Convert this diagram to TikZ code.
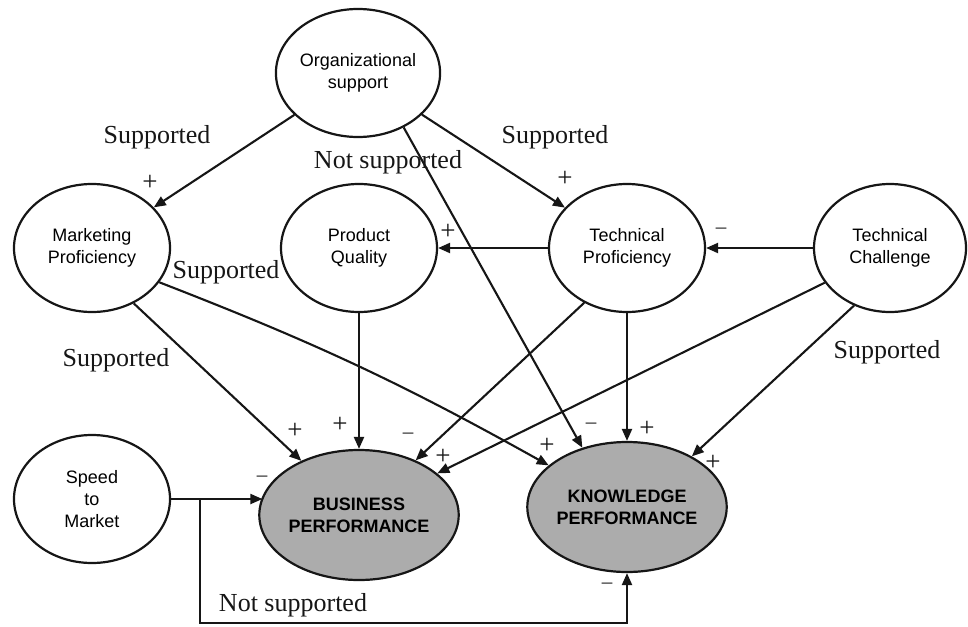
\documentclass[tikz,border=0pt]{standalone}
\usepackage{fontspec}
\setmainfont{Liberation Serif}
\setsansfont{Liberation Sans}
\usetikzlibrary{arrows.meta,shapes.geometric}
\definecolor{perfgray}{RGB}{172,172,172}
\definecolor{ink}{RGB}{22,22,22}
\tikzset{
  var/.style={ellipse, draw=ink, line width=2.2pt, inner sep=0pt, align=center,
    font=\sffamily\fontsize{18}{22}\selectfont,
    minimum width=156pt, minimum height=128pt},
  outcome/.style={var, fill=perfgray,
    font=\sffamily\bfseries\fontsize{18}{22}\selectfont,
    minimum width=176pt, minimum height=130pt},
  link/.style={draw=ink, line width=2.1pt, -{Triangle[length=12pt,width=10pt]}},
  verdict/.style={font=\fontsize{26}{28}\selectfont, inner sep=0pt, text=ink},
  sign/.style={font=\fontsize{27}{27}\selectfont, inner sep=0pt, text=ink},
  neg/.style={font=\fontsize{21}{21}\selectfont, inner sep=0pt, text=ink},
}
\begin{document}
\begin{tikzpicture}[x=1pt, y=-1pt]
\useasboundingbox (0,0) rectangle (968,626);

% constructs
\node[var] (org) at (358,73) {Organizational\\support};
\node[var] (mkt) at (92,248) {Marketing\\Proficiency};
\node[var] (pq) at (359,248) {Product\\Quality};
\node[var] (tp) at (627,248) {Technical\\Proficiency};
\node[var, minimum width=152pt] (tc) at (890,248) {Technical\\Challenge};
\node[var] (spd) at (92,499) {Speed\\to\\Market};
\node[outcome] (bus) at (359,515) {BUSINESS\\PERFORMANCE};
\node[outcome] (know) at (627,507) {KNOWLEDGE\\PERFORMANCE};

% hypothesised paths
\draw[link] (org) -- (mkt);
\draw[link] (org) -- (tp);
\draw[link] (org.310) -- (know.127);
\draw[link] (tp) -- (pq);
\draw[link] (tc) -- (tp);
\draw[link] (mkt.307) -- (bus);
\draw[link] (mkt.333) to[bend left=4] (know.152);
\draw[link] (pq) -- (bus);
\draw[link] (tp.232) -- (bus.44);
\draw[link] (tp) -- (know);
\draw[link] (tc.208) -- (bus.28);
\draw[link] (tc.238) -- (know.38);
\draw[link] (spd.east) -- (spd.east -| bus.169);
\coordinate (split) at (200,499);
\coordinate (low) at (200,623);
\draw[link] (split) -- (low) -| (know.south);

% test outcomes
\node[verdict] (s1) at (157,137) {Supported};
\node[verdict] (s2) at (555,137) {Supported};
\node[verdict] (n1) at (388,162) {Not supported};
\node[verdict] (s3) at (226,272) {Supported};
\node[verdict] (s4) at (116,360) {Supported};
\node[verdict] (s5) at (887,352) {Supported};
\node[verdict] (n2) at (293,605) {Not supported};

% signs of the effects
\node[sign] (p1) at (150,183) {+};
\node[sign] (p2) at (565,179) {+};
\node[sign] (p3) at (448,232) {+};
\node[neg] (m1) at (721,231) {–};
\node[sign] (p4) at (295,431) {+};
\node[sign] (p5) at (340,425) {+};
\node[neg] (m2) at (408,436) {–};
\node[sign] (p6) at (443,457) {+};
\node[neg] (m3) at (262,479) {–};
\node[sign] (p7) at (547,446) {+};
\node[neg] (m4) at (591,426) {–};
\node[sign] (p8) at (647,429) {+};
\node[sign] (p9) at (713,463) {+};
\node[neg] (m5) at (607,586) {–};
\end{tikzpicture}
\end{document}
